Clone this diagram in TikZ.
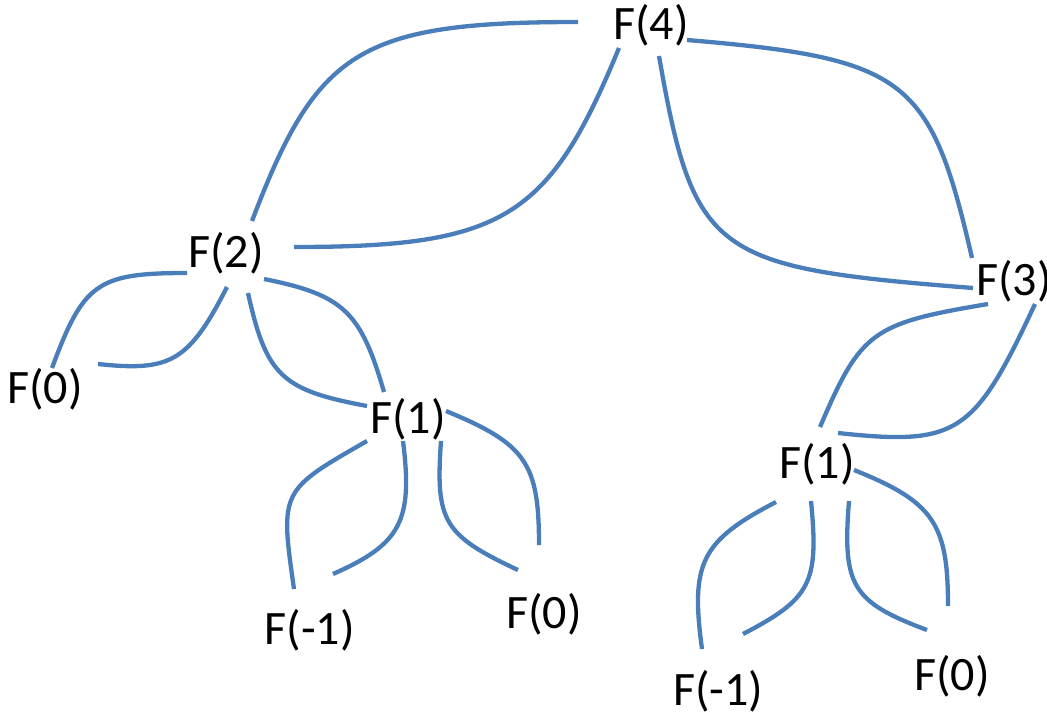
\documentclass[tikz,border=0pt]{standalone}
\usepackage{fontspec}
\setmainfont{Carlito}
\definecolor{linkblue}{RGB}{74,126,187}
\tikzset{
  link/.style={draw=linkblue, line width=4.3pt},
  lbl/.style={font=\fontsize{48}{56}\selectfont, inner sep=0pt, anchor=base west}
}
\begin{document}
\begin{tikzpicture}[x=1pt,y=-1pt]
\useasboundingbox (0,0) rectangle (1047,717);

% call tree labels
\node[lbl] (f4)   at (613,40)  {F(4)};
\node[lbl] (f2)   at (188,267) {F(2)};
\node[lbl] (f3)   at (976,295) {F(3)};
\node[lbl] (f0a)  at (7,403)   {F(0)};
\node[lbl] (f1a)  at (370,433) {F(1)};
\node[lbl] (fm1a) at (264.5,644) {F(-1)};
\node[lbl] (f0b)  at (506,628) {F(0)};
\node[lbl] (f1b)  at (779,478) {F(1)};
\node[lbl] (fm1b) at (673,705) {F(-1)};
\node[lbl] (f0c)  at (914,690) {F(0)};

% loose ends of the curved links
\coordinate (a0) at (578,22);   \coordinate (a1) at (252,221);
\coordinate (b0) at (619,48);   \coordinate (b1) at (294,247);
\coordinate (c0) at (687,40);   \coordinate (c1) at (972,258);
\coordinate (d0) at (659,56);   \coordinate (d1) at (973,288);
\coordinate (e0) at (988,304);  \coordinate (e1) at (820,427);
\coordinate (g0) at (1035,304); \coordinate (g1) at (838,433);
\coordinate (h0) at (187,273);  \coordinate (h1) at (52,368);
\coordinate (i0) at (227,287);  \coordinate (i1) at (98,364);
\coordinate (j0) at (264,279);  \coordinate (j1) at (384,392);
\coordinate (k0) at (248,293);  \coordinate (k1) at (367,406);
\coordinate (l0) at (367,441);  \coordinate (l1) at (294,589);
\coordinate (m0) at (403,441);  \coordinate (m1) at (333,574);
\coordinate (n0) at (441,441);  \coordinate (n1) at (518,570);
\coordinate (o0) at (446,411);  \coordinate (o1) at (539,545);
\coordinate (p0) at (776,502);  \coordinate (p1) at (702,649);
\coordinate (q0) at (811,501);  \coordinate (q1) at (743,634);
\coordinate (r0) at (849,501);  \coordinate (r1) at (927,630);
\coordinate (s0) at (854,470);  \coordinate (s1) at (948,606);

% F(4) -> F(2)
\draw[link] (a0) .. controls (358,22) and (316.6,51) .. (a1);
\draw[link] (b0) .. controls (549,218) and (504,247) .. (b1);
% F(4) -> F(3)
\draw[link] (c0) .. controls (907,58.5) and (930.6,78) .. (c1);
\draw[link] (d0) .. controls (694,256) and (713,267.7) .. (d1);
% F(3) -> F(1)
\draw[link] (e0) .. controls (872,323.5) and (861,331) .. (e1);
\draw[link] (g0) .. controls (974.4,434) and (958,446) .. (g1);
% F(2) -> F(0)
\draw[link] (h0) .. controls (97,273) and (83.5,283) .. (h1);
\draw[link] (i0) .. controls (188.8,362) and (170,371.7) .. (i1);
% F(2) -> F(1)
\draw[link] (j0) .. controls (344,295) and (360.8,312) .. (j1);
\draw[link] (k0) .. controls (266.3,376) and (282,390.2) .. (k1);
% F(1) -> F(-1), F(0) on the left
\draw[link] (l0) .. controls (280,490.7) .. (l1);
\draw[link] (m0) .. controls (413,521) and (401,544) .. (m1);
\draw[link] (n0) .. controls (435.4,521) and (443,535) .. (n1);
\draw[link] (o0) .. controls (526,444) and (539,463) .. (o1);
% F(1) -> F(-1), F(0) on the right
\draw[link] (p0) .. controls (701,541) and (690.3,563) .. (p1);
\draw[link] (q0) .. controls (819,583) and (811,598.6) .. (q1);
\draw[link] (r0) .. controls (842.2,586) and (852,601.9) .. (r1);
\draw[link] (s0) .. controls (934,502) and (948,524) .. (s1);
\end{tikzpicture}
\end{document}
